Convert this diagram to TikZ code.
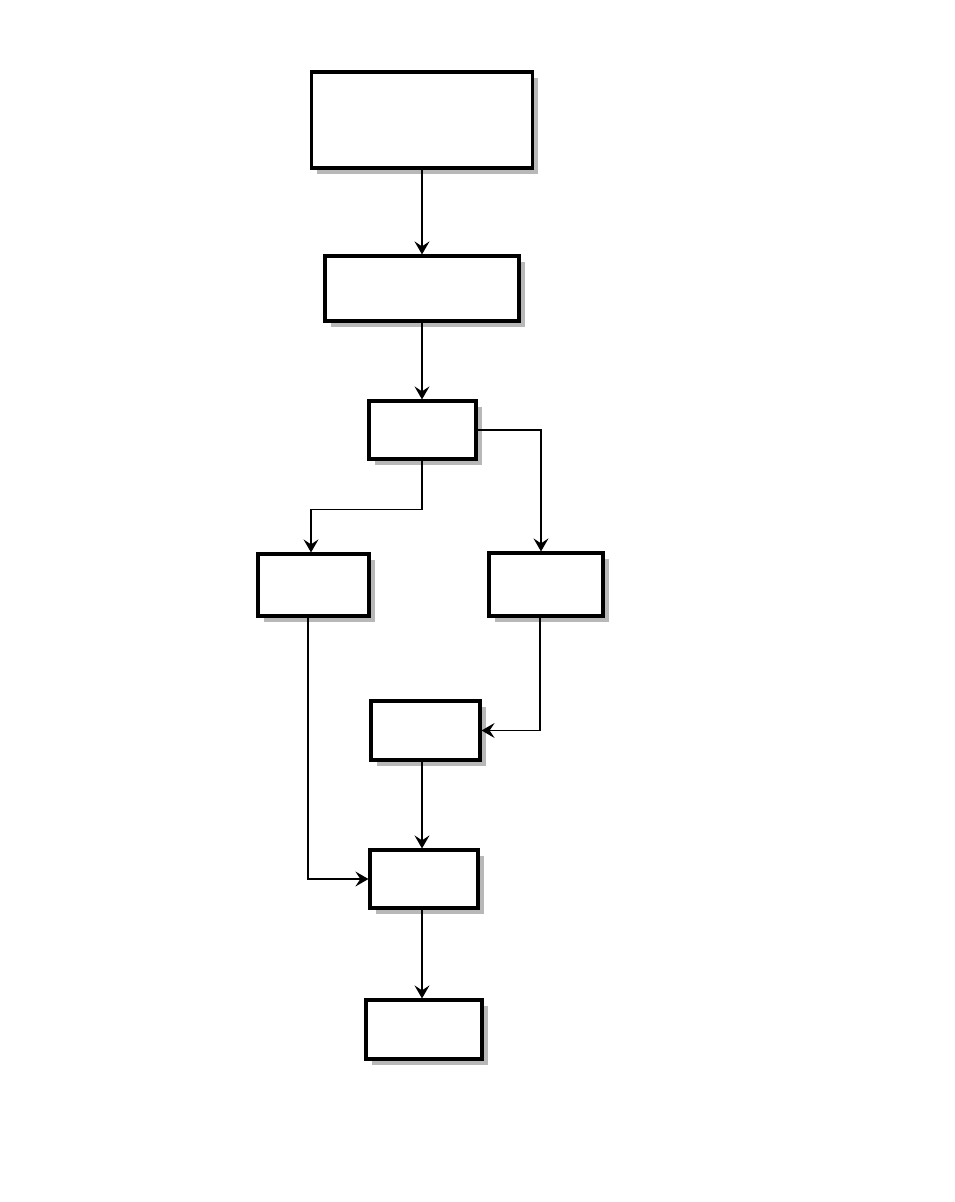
\documentclass[tikz,border=0pt]{standalone}
\usetikzlibrary{arrows.meta,shadows}
\begin{document}
\begin{tikzpicture}[x=1pt,y=-1pt,
    box/.style={draw, line width=3.2pt, fill=white, inner sep=0pt,
      drop shadow={shadow xshift=5.5pt, shadow yshift=-5.5pt, fill=black!28, opacity=1}},
    link/.style={line width=1.1pt, -{Stealth[length=13pt, width=15pt, inset=5pt]}}]
    \useasboundingbox (0,0) rectangle (954,1202);

    \node[box, minimum width=221pt, minimum height=96pt](start) at (422,120){};
    \node[box, minimum width=194pt, minimum height=65pt](prep) at (422,288.5){};
    \node[box, minimum width=107pt, minimum height=58pt](check) at (422.5,430){};
    \node[box, minimum width=111pt, minimum height=62pt](left) at (313.5,585){};
    \node[box, minimum width=114pt, minimum height=63pt](right) at (546,584.5){};
    \node[box, minimum width=109pt, minimum height=59pt](merge) at (425.5,730.5){};
    \node[box, minimum width=108pt, minimum height=58pt](join) at (424,879){};
    \node[box, minimum width=116pt, minimum height=59pt](stop) at (424,1029.5){};

    \draw[link, line width=2.2pt] (start.south) -- (prep.north);
    \draw[link] (prep.south) -- (check.north -| prep.south);
    \draw[link] ([xshift=-0.5pt]check.south) -- ++(0,49) -| ([xshift=-2.5pt]left.north);
    \draw[link] (check.east) -| ([xshift=-5pt]right.north);
    \draw[link] ([xshift=-5.5pt]left.south) |- (join.west);
    \draw[link] ([xshift=-6pt]right.south) |- (merge.east);
    \draw[link] (merge.south -| prep.south) -- (join.north -| prep.south);
    \draw[link] (join.south -| prep.south) -- (stop.north -| prep.south);

  \end{tikzpicture}
\end{document}
